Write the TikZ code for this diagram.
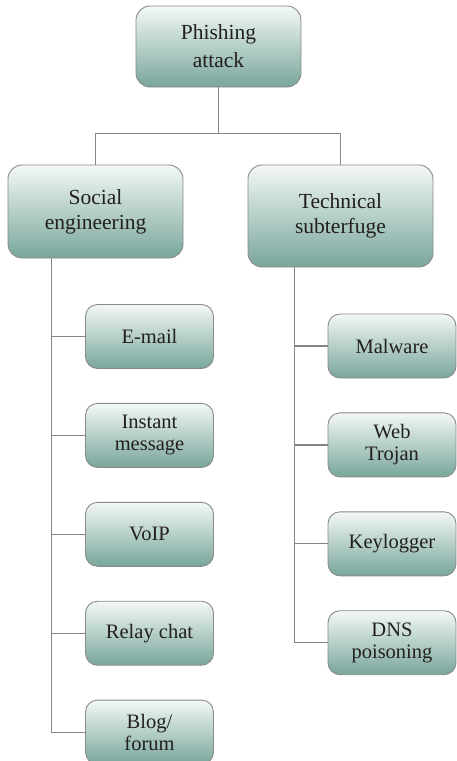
\documentclass[tikz,border=0pt]{standalone}
\usepackage{fontspec}
\setmainfont{Liberation Serif}
\usetikzlibrary{positioning}

\definecolor{boxtop}{HTML}{F3F8F6}
\definecolor{boxbot}{HTML}{78A69B}
\definecolor{boxline}{HTML}{8A8A8A}
\definecolor{linegray}{HTML}{858585}
\definecolor{boxtext}{HTML}{231F20}

\tikzset{
  box/.style={rectangle, rounded corners=14pt, draw=boxline, line width=0.9pt,
              top color=boxtop, bottom color=boxbot, text=boxtext,
              align=center, inner sep=2pt},
  headbox/.style={box, font=\fontsize{21.5}{25}\selectfont},
  leaf/.style={box, rounded corners=12pt, minimum width=128pt,
               minimum height=64pt, font=\fontsize{20.5}{22}\selectfont},
  link/.style={draw=linegray, line width=1.2pt}
}

\begin{document}
\begin{tikzpicture}[x=1pt,y=1pt]
    \useasboundingbox (0,0) rectangle (456,-761);
    % top levels
    \node (attack) [headbox, minimum width=165pt, minimum height=81pt,
                    font=\fontsize{21.5}{28}\selectfont]
          at (218.5,-46.5) {Phishing\\attack};
    \node (social) [headbox, minimum width=175pt, minimum height=93pt]
          at (95.5,-211.5) {Social\\engineering};
    \node (tech) [headbox, minimum width=185pt, minimum height=102pt]
          at (340.5,-216) {Technical\\subterfuge};

    % social engineering leaves
    \node (email) [leaf] at (149.5,-336.5) {E-mail};
    \node (instant) [leaf, below=34pt of email] {Instant\\message};
    \node (voip) [leaf, below=34pt of instant] {VoIP};
    \node (relay) [leaf, below=34pt of voip] {Relay chat};
    \node (blog) [leaf, below=34pt of relay] {Blog/\\forum};

    % technical subterfuge leaves
    \node (malware) [leaf] at (392,-346) {Malware};
    \node (trojan) [leaf, below=34pt of malware] {Web\\Trojan};
    \node (keylog) [leaf, below=34pt of trojan] {Keylogger};
    \node (dns) [leaf, below=34pt of keylog] {DNS\\poisoning};

    % connectors
    \coordinate (split) at ([yshift=-46pt]attack.south);
    \draw[link] (attack) -- (split) -| (social);
    \draw[link] (split) -| (tech);

    \coordinate (sstem) at ([xshift=44pt]social.south west);
    \foreach \n in {email,instant,voip,relay,blog}
        \draw[link] (sstem) |- (\n);

    \coordinate (tstem) at ([xshift=47pt]tech.south west);
    \foreach \n in {malware,trojan,keylog,dns}
        \draw[link] (tstem) |- (\n);
\end{tikzpicture}
\end{document}
